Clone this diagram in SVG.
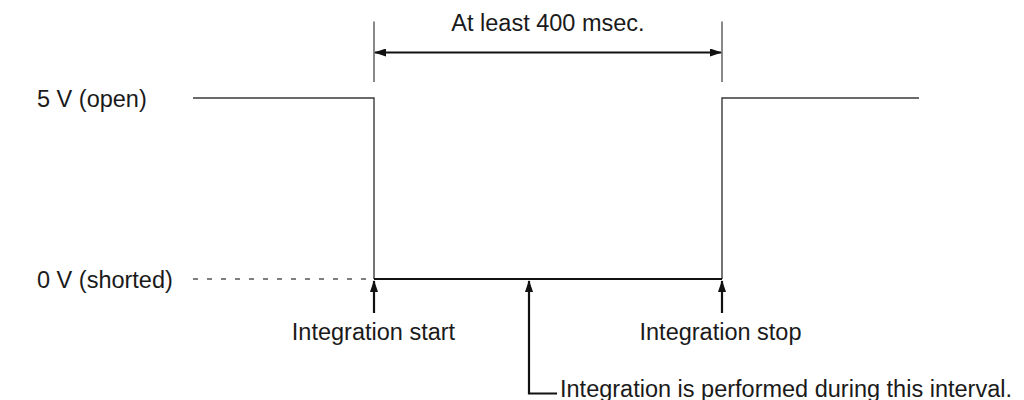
<svg xmlns="http://www.w3.org/2000/svg" width="1024" height="400" viewBox="0 0 1024 400">
<style>
text{font-family:"Liberation Sans",Arial,sans-serif;font-size:23.5px;fill:#1a1a1a}
.wave{fill:none;stroke:#3a3a3a;stroke-width:1.4}
.low{fill:none;stroke:#111;stroke-width:2.2}
.ext{stroke:#3a3a3a;stroke-width:1.2}
.dash{stroke:#555;stroke-width:1.5;stroke-dasharray:5 9}
.arr{fill:none;stroke:#111;stroke-width:2.2}
</style>
<defs>
<marker id="ah" viewBox="0 0 12 8" refX="11" refY="4" markerWidth="12" markerHeight="8" markerUnits="userSpaceOnUse" orient="auto-start-reverse">
<path d="M0,0 L12,4 L0,8 Z" fill="#111"/>
</marker>
</defs>
<g id="labels">
<text x="37" y="106.5">5 V (open)</text>
<text x="37" y="288">0 V (shorted)</text>
</g>
<g id="waveform">
<polyline class="wave" points="193,98 374,98 374,279"/>
<polyline class="wave" points="722,279 722,98 919,98"/>
<line class="low" x1="374" y1="279" x2="722" y2="279"/>
<line class="dash" x1="193" y1="279" x2="373" y2="279"/>
</g>
<g id="dimension">
<line class="ext" x1="374" y1="21.5" x2="374" y2="82"/>
<line class="ext" x1="722" y1="21.5" x2="722" y2="82"/>
<line class="arr" x1="375" y1="52.5" x2="721" y2="52.5" marker-start="url(#ah)" marker-end="url(#ah)"/>
<text x="548" y="31" text-anchor="middle">At least 400 msec.</text>
</g>
<g id="connectors">
<line class="arr" x1="374" y1="313" x2="374" y2="281" marker-end="url(#ah)"/>
<line class="arr" x1="722" y1="313" x2="722" y2="281" marker-end="url(#ah)"/>
<polyline class="arr" points="557,393.5 529,393.5 529,281" marker-end="url(#ah)"/>
</g>
<g id="start">
<text x="373.5" y="340" text-anchor="middle">Integration start</text>
</g>
<g id="stop">
<text x="720.5" y="340" text-anchor="middle">Integration stop</text>
</g>
<g id="interval">
<text x="560" y="397">Integration is performed during this interval.</text>
</g>
</svg>
